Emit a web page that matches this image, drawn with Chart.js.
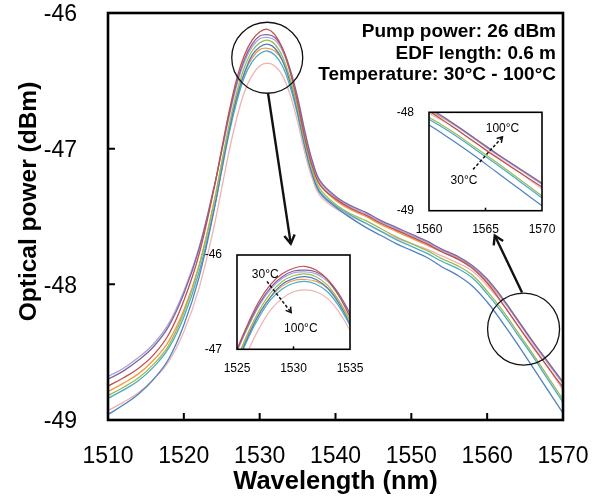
<!DOCTYPE html>
<html>
<head>
<meta charset="utf-8">
<script src="https://cdn.jsdelivr.net/npm/chart.js@4.4.1/dist/chart.umd.min.js"></script>
<style>
body { margin:0; background:#fff; }
#wrap { position:relative; width:592px; height:498px; }
#wrap canvas { position:absolute; }
</style>
</head>
<body>
<div id="wrap">
  <canvas id="main" width="592" height="498" style="left:0;top:0"></canvas>
  <canvas id="inset1" width="170" height="135" style="left:200px;top:245px"></canvas>
  <canvas id="inset2" width="170" height="135" style="left:392px;top:102px"></canvas>
</div>
<script>
// wavelength grid (nm)
const wavelengths = [1510,1512,1514,1516,1518,1520,1522,1524,
  1525,1526,1527,1528,1529,1530,1531,1532,1533,1534,1535,1536,1537,1538,
  1540,1542,1544,1546,1548,1550,1552,1554,1556,1558,1560,1562,1564,1566,1568,1570]

// optical power (dBm) per temperature
const t30 = [-48.75,-48.69,-48.62,-48.52,-48.37,-48.12,-47.78,-47.29,
  -47.00,-46.72,-46.48,-46.31,-46.20,-46.14,-46.12,-46.16,-46.26,-46.43,-46.66,-46.93,-47.14,-47.27,
  -47.37,-47.44,-47.49,-47.55,-47.60,-47.65,-47.70,-47.76,-47.81,-47.88,-47.99,-48.14,-48.30,-48.46,-48.61,-48.76]
const t40 = [-48.70,-48.64,-48.56,-48.46,-48.31,-48.07,-47.74,-47.28,
  -47.01,-46.74,-46.51,-46.34,-46.23,-46.17,-46.16,-46.18,-46.26,-46.41,-46.62,-46.88,-47.10,-47.24,
  -47.35,-47.42,-47.47,-47.53,-47.58,-47.63,-47.68,-47.74,-47.79,-47.86,-47.96,-48.10,-48.26,-48.42,-48.57,-48.72]
const t50 = [-48.68,-48.62,-48.54,-48.44,-48.29,-48.05,-47.73,-47.28,
  -47.02,-46.76,-46.53,-46.36,-46.25,-46.19,-46.18,-46.20,-46.28,-46.43,-46.64,-46.90,-47.11,-47.25,
  -47.36,-47.43,-47.48,-47.54,-47.59,-47.64,-47.69,-47.75,-47.80,-47.87,-47.97,-48.11,-48.27,-48.43,-48.58,-48.73]
const t60 = [-48.82,-48.76,-48.69,-48.59,-48.45,-48.21,-47.87,-47.39,
  -47.10,-46.82,-46.58,-46.40,-46.28,-46.22,-46.20,-46.23,-46.32,-46.48,-46.70,-46.96,-47.17,-47.30,
  -47.41,-47.48,-47.53,-47.59,-47.65,-47.70,-47.75,-47.81,-47.86,-47.93,-48.05,-48.19,-48.35,-48.51,-48.68,-48.85]
const t70 = [-48.96,-48.89,-48.81,-48.70,-48.55,-48.30,-47.95,-47.45,
  -47.15,-46.86,-46.62,-46.44,-46.31,-46.25,-46.23,-46.26,-46.35,-46.51,-46.73,-46.99,-47.20,-47.33,
  -47.43,-47.51,-47.58,-47.64,-47.70,-47.75,-47.80,-47.87,-47.93,-48.01,-48.13,-48.28,-48.44,-48.61,-48.78,-48.95]
const t80 = [-48.79,-48.73,-48.66,-48.56,-48.42,-48.19,-47.86,-47.39,
  -47.11,-46.84,-46.61,-46.44,-46.33,-46.27,-46.26,-46.28,-46.35,-46.49,-46.69,-46.94,-47.14,-47.27,
  -47.38,-47.45,-47.50,-47.56,-47.61,-47.66,-47.71,-47.76,-47.81,-47.87,-47.98,-48.11,-48.26,-48.42,-48.58,-48.73]
const t90 = [-48.84,-48.78,-48.71,-48.61,-48.47,-48.24,-47.91,-47.44,
  -47.16,-46.88,-46.65,-46.47,-46.36,-46.30,-46.28,-46.31,-46.39,-46.54,-46.75,-47.00,-47.20,-47.32,
  -47.42,-47.49,-47.55,-47.61,-47.67,-47.72,-47.77,-47.83,-47.88,-47.95,-48.07,-48.21,-48.37,-48.53,-48.70,-48.87]
const t100 = [-48.93,-48.87,-48.80,-48.70,-48.57,-48.35,-48.03,-47.57,
  -47.29,-47.01,-46.77,-46.58,-46.46,-46.39,-46.37,-46.39,-46.46,-46.60,-46.80,-47.04,-47.23,-47.35,
  -47.44,-47.50,-47.55,-47.61,-47.66,-47.70,-47.74,-47.79,-47.84,-47.90,-48.01,-48.14,-48.30,-48.45,-48.61,-48.78]

const temps = ['30°C','40°C','50°C','60°C','70°C','80°C','90°C','100°C']
const series = [t30, t40, t50, t60, t70, t80, t90, t100]
const colors = ['#C0504D','#8064A2','#A8A4D6','#9BBB59','#4F81BD','#F79646','#4BACC6','#EDB3B1']

const infoLines = ['Pump power: 26 dBm', 'EDF length: 0.6 m', 'Temperature: 30°C - 100°C']

const FONT = '"Liberation Sans", Arial, sans-serif'

function makeDatasets(width){
    return series.map((vals, i) => ({
        label: temps[i],
        data: wavelengths.map((w, j) => ({x: w, y: vals[j]})),
        borderColor: colors[i],
        borderWidth: width,
        pointRadius: 0,
        tension: 0.4,
        fill: false
    }))
}

function arrow(ctx, x1, y1, x2, y2, head, dash){
    ctx.setLineDash(dash || [])
    ctx.beginPath()
    ctx.moveTo(x1, y1)
    ctx.lineTo(x2, y2)
    ctx.stroke()
    ctx.setLineDash([])
    const a = Math.atan2(y2 - y1, x2 - x1)
    ctx.beginPath()
    ctx.moveTo(x2 - head * Math.cos(a - 0.55), y2 - head * Math.sin(a - 0.55))
    ctx.lineTo(x2, y2)
    ctx.lineTo(x2 - head * Math.cos(a + 0.55), y2 - head * Math.sin(a + 0.55))
    ctx.stroke()
}

// frame + inward tick marks
const boxTicks = {
    id: 'boxTicks',
    afterDatasetsDraw(chart, args, opts){
        const {ctx, chartArea: a, scales: {x, y}} = chart
        ctx.save()
        ctx.strokeStyle = '#000'
        ctx.lineWidth = opts.frame
        ctx.strokeRect(a.left, a.top, a.right - a.left, a.bottom - a.top)
        ctx.lineWidth = opts.tick
        ctx.beginPath()
        x.ticks.forEach(t => {
            const px = x.getPixelForValue(t.value)
            if (px > a.left + 2 && px < a.right - 2) { ctx.moveTo(px, a.bottom); ctx.lineTo(px, a.bottom - opts.len) }
        })
        if (opts.yTicks) y.ticks.forEach(t => {
            const py = y.getPixelForValue(t.value)
            if (py > a.top + 2 && py < a.bottom - 2) { ctx.moveTo(a.left, py); ctx.lineTo(a.left + opts.len, py) }
        })
        ctx.stroke()
        ctx.restore()
    }
}

// circles, arrows, notes
const notes = {
    id: 'notes',
    afterDraw(chart, args, opts){
        const {ctx, chartArea: a, scales: {x, y}} = chart
        ctx.save()
        ctx.strokeStyle = '#111'
        ctx.fillStyle = '#000'
        ;(opts.circles || []).forEach(c => {
            ctx.lineWidth = 1.3
            ctx.beginPath()
            ctx.arc(x.getPixelForValue(c.x), y.getPixelForValue(c.y), c.r, 0, Math.PI * 2)
            ctx.stroke()
        })
        ;(opts.arrows || []).forEach(r => {
            ctx.lineWidth = r.width
            arrow(ctx, x.getPixelForValue(r.from[0]), y.getPixelForValue(r.from[1]),
                x.getPixelForValue(r.to[0]), y.getPixelForValue(r.to[1]), r.head, r.dash)
        })
        ;(opts.labels || []).forEach(l => {
            ctx.font = l.font
            ctx.textAlign = 'center'
            ctx.textBaseline = 'middle'
            ctx.fillText(l.text, x.getPixelForValue(l.x), y.getPixelForValue(l.y))
        })
        if (opts.info) {
            ctx.font = 'bold 19px ' + FONT
            ctx.textAlign = 'right'
            ctx.textBaseline = 'middle'
            opts.info.forEach((s, i) => ctx.fillText(s, a.right - 7, a.top + 19 + i * 21.5))
        }
        if (opts.yTitle) {
            ctx.translate(29, (a.top + a.bottom) / 2 - 15)
            ctx.rotate(-Math.PI / 2)
            ctx.font = 'bold 24.5px ' + FONT
            ctx.textAlign = 'center'
            ctx.textBaseline = 'middle'
            ctx.fillText(opts.yTitle, 0, 0)
        }
        ctx.restore()
    }
}

// fixed axis boxes; label overhang must not shrink the plot area
const fixX = h => s => { s.height = h; s.paddingLeft = 0; s.paddingRight = 0 }
const fixY = w => s => { s.width = w; s.paddingTop = 0; s.paddingBottom = 0 }

new Chart(document.getElementById('main'), {
    type: 'line',
    data: { datasets: makeDatasets(1.3) },
    plugins: [boxTicks, notes],
    options: {
        responsive: false,
        animation: false,
        layout: { padding: { left: 0, top: 13, right: 29, bottom: 0 } },
        scales: {
            x: {
                type: 'linear', min: 1510, max: 1570,
                afterFit: fixX(78),
                grid: { display: false }, border: { display: false },
                ticks: { stepSize: 10, color: '#000', padding: 17, callback: v => String(v),
                    font: { family: FONT, size: 23, lineHeight: 1 } },
                title: { display: true, text: 'Wavelength (nm)', color: '#000', padding: { top: 0, bottom: 1 },
                    font: { family: FONT, size: 25.5, weight: 'bold' } }
            },
            y: {
                min: -49, max: -46,
                afterFit: fixY(108),
                grid: { display: false }, border: { display: false },
                ticks: { stepSize: 1, color: '#000', padding: 23, labelOffset: 2,
                    font: { family: FONT, size: 23, lineHeight: 1 } }
            }
        },
        plugins: {
            legend: { display: false },
            tooltip: { enabled: false },
            boxTicks: { frame: 2.6, tick: 2, len: 7, yTicks: true },
            notes: {
                circles: [ { x: 1531.0, y: -46.33, r: 35.5 }, { x: 1564.8, y: -48.33, r: 36 } ],
                arrows: [
                    { from: [1531.1, -46.59], to: [1534.1, -47.70], width: 2.4, head: 10 },
                    { from: [1564.6, -48.06], to: [1561.0, -47.64], width: 2.4, head: 10 }
                ],
                info: infoLines,
                yTitle: 'Optical power (dBm)'
            }
        }
    }
})

function inset(id, xr, yr, padTop, xHeight, note){
    return new Chart(document.getElementById(id), {
        type: 'line',
        data: { datasets: makeDatasets(1.2) },
        plugins: [boxTicks, notes],
        options: {
            responsive: false,
            animation: false,
            layout: { padding: { left: 0, top: padTop, right: 20, bottom: 0 } },
            scales: {
                x: {
                    type: 'linear', min: xr[0], max: xr[1],
                    afterFit: fixX(xHeight),
                    grid: { display: false }, border: { display: false },
                    ticks: { stepSize: 5, color: '#000', padding: 5, callback: v => String(v),
                        font: { family: FONT, size: 12, lineHeight: 1 } }
                },
                y: {
                    min: yr[0], max: yr[1],
                    afterFit: fixY(37),
                    grid: { display: false }, border: { display: false },
                    ticks: { stepSize: 1, color: '#000', padding: 7,
                        font: { family: FONT, size: 12, lineHeight: 1 } }
                }
            },
            plugins: {
                legend: { display: false },
                tooltip: { enabled: false },
                boxTicks: { frame: 1.6, tick: 1.5, len: 3, yTicks: false },
                notes: note
            }
        }
    })
}

inset('inset1', [1525, 1535], [-47, -46], 10, 30.7, {
    labels: [
        { text: '30°C', x: 1527.5, y: -46.205, font: '12px ' + FONT },
        { text: '100°C', x: 1530.65, y: -46.78, font: '12px ' + FONT }
    ],
    arrows: [ { from: [1527.65, -46.28], to: [1529.8, -46.61], width: 1.5, head: 6, dash: [3, 2] } ]
})

inset('inset2', [1560, 1570], [-49, -48], 10.3, 26.3, {
    labels: [
        { text: '100°C', x: 1566.5, y: -48.17, font: '12px ' + FONT },
        { text: '30°C', x: 1563.1, y: -48.69, font: '12px ' + FONT }
    ],
    arrows: [ { from: [1563.9, -48.58], to: [1566.5, -48.25], width: 1.5, head: 6, dash: [3, 2] } ]
})
</script>
</body>
</html>
